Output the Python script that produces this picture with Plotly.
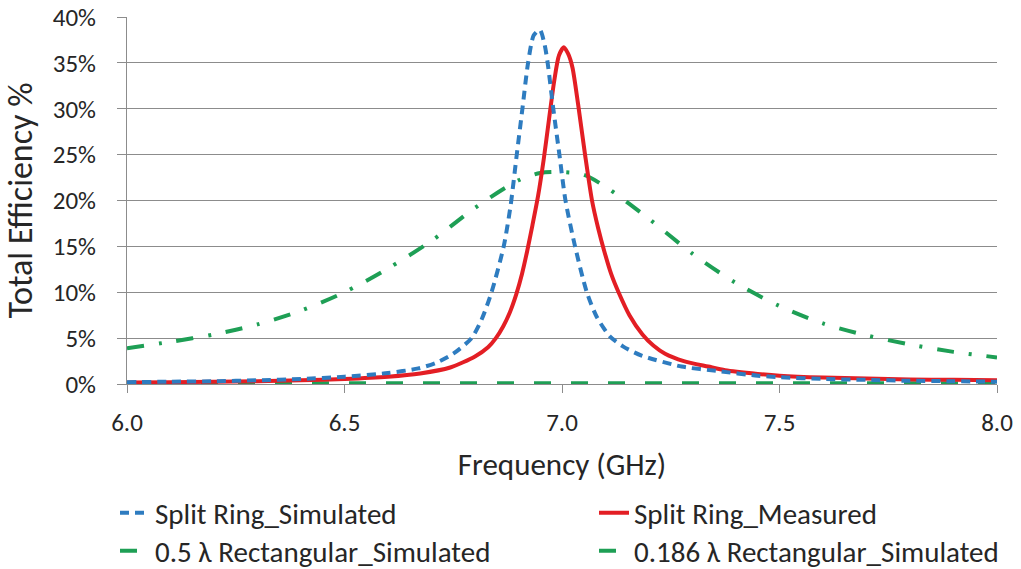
import plotly.graph_objects as go

# ---- data ----
freq_sr_sim = [6.0, 6.1, 6.2, 6.3, 6.4, 6.5, 6.6, 6.67, 6.71, 6.75, 6.792, 6.815, 6.838, 6.866,
               6.882, 6.896, 6.909, 6.922, 6.935, 6.949, 6.96, 6.967, 6.98, 6.994, 7.008, 7.03,
               7.057, 7.08, 7.11, 7.14, 7.183, 7.275, 7.36, 7.45, 7.5, 7.6, 7.7, 7.8, 7.9, 8.0]
eff_sr_sim = [0.2, 0.25, 0.3, 0.4, 0.55, 0.8, 1.2, 1.7, 2.3, 3.3, 5.0, 7.0, 10.0, 15.0,
              19.5, 25.0, 30.0, 35.0, 38.0, 38.6, 37.0, 35.0, 30.0, 25.0, 20.0, 15.0,
              10.0, 7.3, 5.2, 4.1, 3.1, 1.9, 1.4, 0.9, 0.75, 0.55, 0.45, 0.35, 0.3, 0.25]

freq_sr_meas = [6.0, 6.1, 6.2, 6.3, 6.4, 6.5, 6.6, 6.674, 6.743, 6.8, 6.83, 6.848, 6.865, 6.88,
                6.895, 6.908, 6.92, 6.932, 6.945, 6.958, 6.97, 6.982, 6.993, 7.004, 7.014,
                7.024, 7.037, 7.053, 7.069, 7.083, 7.097, 7.113, 7.13, 7.155, 7.185, 7.21,
                7.237, 7.28, 7.336, 7.375, 7.45, 7.5, 7.6, 7.7, 7.8, 7.9, 8.0]
eff_sr_meas = [0.15, 0.2, 0.25, 0.3, 0.4, 0.55, 0.8, 1.15, 1.8, 3.0, 4.0, 5.0, 6.3, 7.8,
               9.8, 12.0, 14.5, 17.3, 20.5, 24.5, 28.8, 33.0, 35.8, 36.7, 36.0,
               34.5, 30.5, 25.0, 20.0, 17.0, 14.5, 12.0, 10.0, 7.5, 5.4, 4.2,
               3.3, 2.5, 1.9, 1.5, 1.1, 0.9, 0.7, 0.6, 0.5, 0.45, 0.4]

freq_rect05 = [6.0, 6.1, 6.2, 6.3, 6.4, 6.5, 6.6, 6.7, 6.8, 6.9, 6.95, 7.0, 7.05, 7.1, 7.2,
               7.3, 7.4, 7.5, 7.6, 7.7, 7.8, 7.9, 8.0]
eff_rect05 = [3.9, 4.6, 5.4, 6.5, 8.0, 10.0, 12.6, 15.6, 19.2, 22.2, 23.0, 23.1, 22.8, 21.5, 18.0,
              14.2, 11.0, 8.5, 6.6, 5.3, 4.3, 3.5, 2.9]

freq_rect0186 = [6.0, 6.5, 7.0, 7.5, 8.0]
eff_rect0186 = [0.08, 0.08, 0.08, 0.08, 0.08]

names = ["Split Ring_Simulated", "Split Ring_Measured",
         "0.5 λ Rectangular_Simulated", "0.186 λ Rectangular_Simulated"]

x_ticks = [6.0, 6.5, 7.0, 7.5, 8.0]
x_ticktext = ["6.0", "6.5", "7.0", "7.5", "8.0"]
y_ticks = [0, 5, 10, 15, 20, 25, 30, 35, 40]
y_ticktext = ["0%", "5%", "10%", "15%", "20%", "25%", "30%", "35%", "40%"]

FONT = "Carlito, Calibri, Lato, sans-serif"
TXT = "#262626"
GRID = "#8c8c8c"
BLUE = "#2e7cc0"
RED = "#e31e24"
GREEN = "#1e9f55"

fig = go.Figure()
fig.add_trace(go.Scatter(x=freq_rect0186, y=eff_rect0186, name=names[3], mode="lines",
                         line=dict(color=GREEN, width=4, dash="17px,20px"), legend="legend4"))
fig.add_trace(go.Scatter(x=freq_rect05, y=eff_rect05, name=names[2], mode="lines",
                         line=dict(color=GREEN, width=4, dash="17px,15px,3px,15px",
                                   shape="spline", smoothing=0.8), legend="legend3"))
fig.add_trace(go.Scatter(x=freq_sr_meas, y=eff_sr_meas, name=names[1], mode="lines",
                         line=dict(color=RED, width=4, shape="spline", smoothing=0.7), legend="legend2"))
fig.add_trace(go.Scatter(x=freq_sr_sim, y=eff_sr_sim, name=names[0], mode="lines",
                         line=dict(color=BLUE, width=4, dash="9px,6px", shape="spline", smoothing=0.7),
                         legend="legend"))

def leg(xp, yp):
    return dict(orientation="h", x=xp, xanchor="left", y=yp, yanchor="middle",
                font=dict(size=29, color=TXT), bgcolor="rgba(0,0,0,0)")

col1 = (115 - 127) / 870
col2 = (594 - 127) / 870
row1 = (384 - 513) / 367
row2 = (384 - 551) / 367

fig.update_layout(
    width=1021, height=569,
    margin=dict(l=127, r=24, t=17, b=185, autoexpand=False),
    paper_bgcolor="white", plot_bgcolor="white",
    font=dict(family=FONT, size=24, color=TXT),
    legend=leg(col1, row1),
    legend2=leg(col2, row1),
    legend3=leg(col1, row2),
    legend4=leg(col2, row2),
    showlegend=True,
)
fig.update_xaxes(range=[6, 8], tickvals=x_ticks, ticktext=x_ticktext,
                 showline=True, linecolor=GRID, linewidth=1, showgrid=False, zeroline=False,
                 ticks="outside", ticklen=8, tickcolor=GRID, ticklabelstandoff=8,
                 title=dict(text="Frequency (GHz)", font=dict(size=31), standoff=16),
                 tickfont=dict(size=25), automargin=False)
fig.update_yaxes(range=[0, 40], tickvals=y_ticks, ticktext=y_ticktext,
                 showline=True, linecolor=GRID, linewidth=1, showgrid=True, gridcolor=GRID, gridwidth=1,
                 zeroline=False, ticks="outside", ticklen=9, tickcolor=GRID, ticklabelstandoff=16,
                 title=dict(text="Total Efficiency %", font=dict(size=34), standoff=10),
                 tickfont=dict(size=25), automargin=False)

fig.write_html("out.html")
